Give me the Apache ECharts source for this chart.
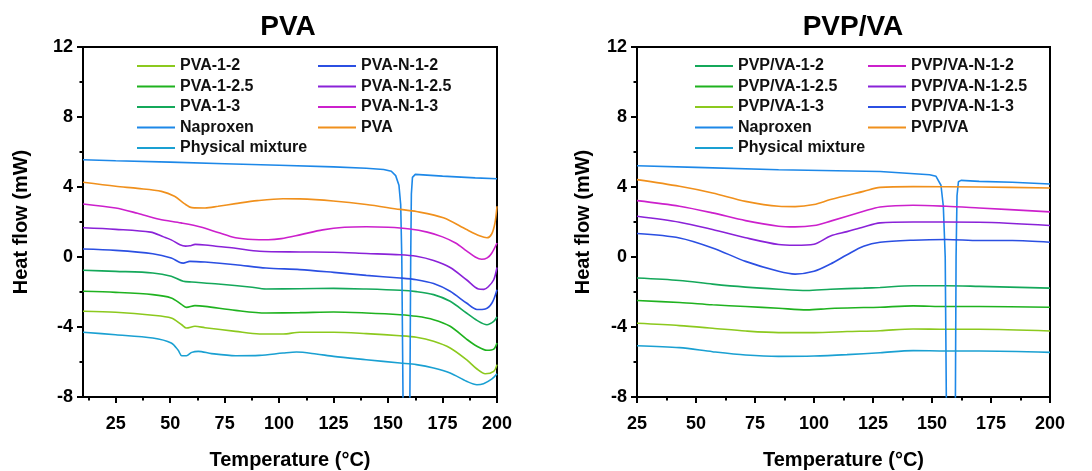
<!DOCTYPE html>
<html>
<head>
<meta charset="utf-8">
<script src="https://cdn.jsdelivr.net/npm/echarts@6/dist/echarts.min.js"></script>
<style>
  html, body { margin: 0; padding: 0; background: #fff; }
  #dsc { width: 1092px; height: 471px; }
</style>
</head>
<body>
<div id="dsc"></div>
<script>
// DSC curves, [temperature, heat flow]
// PVA panel
var pvaNap = [[10,5.56],[25,5.5],[50,5.42],[75,5.33],[100,5.24],[125,5.15],[140,5.07],[148,5.0],[151.5,4.9],[153.5,4.65],[155,4.1],[155.8,3.0],[156.3,0],[156.9,-8.5],[157.5,-10],[159.4,-10],[160,-8.5],[160.4,0],[160.7,3.6],[161.2,4.55],[162.5,4.72],[175,4.62],[190,4.52],[200,4.47]];
var pvaPVA = [[10,4.27],[25,4.04],[35,3.92],[46,3.75],[52,3.47],[56.5,3.05],[60,2.82],[66,2.8],[72,2.9],[80,3.05],[90,3.22],[101.8,3.33],[109.5,3.32],[124.8,3.2],[140,3.0],[155.5,2.72],[163,2.6],[175.4,2.24],[186,1.57],[192.3,1.2],[195.4,1.1],[197.5,1.3],[199,1.9],[200,2.9]];
var pvaN13 = [[10,3.03],[25,2.8],[35,2.5],[45,2.16],[55,1.95],[64,1.72],[72,1.4],[80,1.1],[88,1.0],[95,0.99],[101,1.05],[110,1.28],[120,1.55],[130,1.7],[140,1.73],[150,1.7],[160,1.6],[168,1.42],[175,1.15],[181,0.8],[186,0.35],[190,0.0],[193,-0.13],[195.5,-0.05],[197.5,0.2],[200,0.8]];
var pvaN125 = [[10,1.67],[25,1.58],[41,1.42],[47,1.15],[50.5,0.98],[54.5,0.7],[57,0.62],[59,0.64],[61.5,0.72],[66,0.69],[72,0.6],[80,0.5],[91,0.33],[110,0.29],[125,0.27],[140,0.2],[155.5,0.13],[163,0.04],[170.9,-0.2],[178.5,-0.6],[186,-1.3],[191.5,-1.83],[194,-1.85],[196,-1.7],[198.5,-1.3],[200,-0.6]];
var pvaN12 = [[10,0.46],[25,0.38],[42,0.19],[50.5,-0.06],[54.5,-0.32],[56,-0.35],[59,-0.25],[66,-0.29],[80,-0.44],[94,-0.63],[109.5,-0.72],[125,-0.88],[140,-1.05],[155.5,-1.2],[163,-1.3],[170.9,-1.52],[178.5,-1.96],[186,-2.63],[190.8,-3.0],[194.6,-2.97],[197.7,-2.63],[200,-1.87]];
var pva13 = [[10,-0.76],[25,-0.82],[42,-0.91],[50.5,-1.1],[56,-1.39],[60,-1.43],[72,-1.54],[86.5,-1.71],[94,-1.83],[109.5,-1.81],[125,-1.79],[140,-1.83],[155.5,-1.9],[163,-1.98],[170.9,-2.15],[178.5,-2.53],[186,-3.2],[190.8,-3.62],[195.4,-3.87],[198.5,-3.68],[200,-3.43]];
var pva125 = [[10,-1.96],[25,-2.02],[42,-2.15],[50.5,-2.34],[55.3,-2.72],[57.5,-2.88],[61.4,-2.78],[66,-2.82],[80,-3.05],[94,-3.2],[109.5,-3.18],[125,-3.14],[140,-3.2],[155.5,-3.3],[163,-3.39],[170.9,-3.58],[178.5,-3.96],[186,-4.69],[190.8,-5.1],[195.4,-5.33],[198.5,-5.26],[200,-4.91]];
var pva12 = [[10,-3.1],[25,-3.16],[42,-3.33],[50.5,-3.49],[55.3,-3.87],[57.5,-4.06],[61.4,-3.96],[66,-4.04],[80,-4.25],[91,-4.4],[101.8,-4.4],[109.5,-4.3],[125,-4.3],[140,-4.38],[155.5,-4.5],[163,-4.59],[170.9,-4.82],[178.5,-5.2],[186,-5.87],[190.8,-6.4],[194.6,-6.67],[198.5,-6.53],[200,-6.15]];
var pvaPM = [[10,-4.3],[25,-4.44],[42,-4.63],[50.5,-4.91],[53.7,-5.33],[55.3,-5.64],[57.5,-5.64],[59.9,-5.45],[62.9,-5.39],[69,-5.52],[80,-5.64],[91,-5.62],[101.8,-5.49],[108,-5.43],[117,-5.54],[125,-5.68],[140,-5.87],[155.5,-6.06],[163,-6.15],[170.9,-6.34],[178.5,-6.63],[186,-7.1],[190.8,-7.3],[193.8,-7.24],[197.7,-6.97],[200,-6.67]];

// PVP/VA panel
var vaNap = [[25,5.21],[50,5.12],[85,4.99],[128,4.89],[149,4.7],[151.7,4.61],[153.8,4.1],[154.8,2.9],[155.6,0],[156.1,-8.5],[156.6,-10],[159.4,-10],[159.9,-8.5],[160.2,0],[160.6,3.5],[161.2,4.3],[162.3,4.38],[170,4.32],[184,4.27],[200,4.17]];
var vaVA = [[25,4.42],[43,4.04],[57,3.66],[71,3.18],[85,2.9],[92,2.88],[100,3.0],[107,3.28],[121,3.75],[128,3.98],[142,4.02],[170,4.0],[200,3.94]];
var vaN12 = [[25,3.22],[43,2.9],[57,2.52],[71,2.08],[85,1.76],[92,1.72],[100,1.8],[107,2.05],[121,2.61],[128,2.86],[142,2.96],[156,2.9],[170,2.8],[200,2.58]];
var vaN125 = [[25,2.33],[43,1.99],[57,1.57],[71,1.1],[85,0.71],[92,0.67],[100,0.73],[107,1.2],[114,1.45],[121,1.72],[128,1.95],[142,2.0],[170,1.99],[200,1.8]];
var vaN13 = [[25,1.34],[43,1.09],[57,0.52],[71,-0.25],[85,-0.82],[92,-0.98],[100,-0.82],[107,-0.4],[114,0.13],[121,0.61],[128,0.84],[142,0.96],[156,1.0],[170,0.94],[184,0.94],[200,0.84]];
var va12 = [[25,-1.2],[43,-1.34],[57,-1.55],[71,-1.72],[85,-1.84],[97,-1.91],[107,-1.84],[121,-1.78],[128,-1.74],[142,-1.64],[156,-1.64],[170,-1.68],[200,-1.78]];
var va125 = [[25,-2.49],[43,-2.6],[57,-2.73],[71,-2.83],[85,-2.93],[97,-3.02],[107,-2.94],[121,-2.89],[128,-2.87],[142,-2.79],[156,-2.83],[170,-2.83],[200,-2.87]];
var va13 = [[25,-3.79],[43,-3.92],[57,-4.07],[71,-4.23],[85,-4.32],[100,-4.32],[114,-4.26],[128,-4.21],[142,-4.11],[156,-4.13],[170,-4.13],[200,-4.23]];
var vaPM = [[25,-5.07],[43,-5.18],[57,-5.41],[71,-5.6],[85,-5.68],[100,-5.66],[114,-5.58],[128,-5.47],[142,-5.35],[156,-5.37],[170,-5.37],[200,-5.45]];

var majorTicksL = [25, 50, 75, 100, 125, 150, 175, 200];
var minorTicksL = [12.5, 37.5, 62.5, 87.5, 112.5, 137.5, 162.5, 187.5];

var FONT = '"Liberation Sans", Arial, sans-serif';
var cYellowGreen = '#8cc91e', cGreen = '#1fb21f', cTeal = '#14a85a', cNap = '#1d88e8',
    cPM = '#1aa0d2', cBlue = '#2b4fe2', cPurple = '#8a22d8', cMagenta = '#cc20cc', cOrange = '#f0901c';

var dscChart = echarts.init(document.getElementById('dsc'));

function line(name, data, color, xi, yi, smooth) {
    return {
        name: name, type: 'line', data: data,
        xAxisIndex: xi, yAxisIndex: yi,
        showSymbol: false, symbol: 'none',
        smooth: smooth, clip: true,
        itemStyle: { color: color },
        lineStyle: { color: color, width: 1.6 },
        silent: true
    };
}

function yAxis(grid, gap) {
    return {
        type: 'value', gridIndex: grid, min: -8, max: 12, interval: 4,
        axisLine: { show: true, onZero: false, lineStyle: { color: '#000', width: 2 } },
        axisTick: { show: true, length: 6, lineStyle: { color: '#000', width: 2 } },
        minorTick: { show: true, splitNumber: 2, length: 3.5, lineStyle: { color: '#000', width: 2 } },
        axisLabel: { fontSize: 18, fontWeight: 'bold', color: '#000', margin: 10, fontFamily: FONT },
        splitLine: { show: false },
        name: 'Heat flow (mW)', nameLocation: 'middle', nameGap: gap,
        nameTextStyle: { fontSize: 20, fontWeight: 'bold', color: '#000', fontFamily: FONT }
    };
}

function legend(left, names) {
    return {
        left: left, top: 58, orient: 'vertical', padding: 0,
        icon: 'rect', itemWidth: 38, itemHeight: 2, itemGap: 4.5,
        selectedMode: false, data: names,
        textStyle: { fontSize: 16, fontWeight: 'bold', color: '#111', lineHeight: 16, fontFamily: FONT }
    };
}

var option = {
    animation: false,
    textStyle: { fontFamily: FONT },
    title: [
        { text: 'PVA', left: 288, top: 13, textAlign: 'center', padding: 0,
          textStyle: { fontSize: 28, fontWeight: 'bold', color: '#000', fontFamily: FONT } },
        { text: 'PVP/VA', left: 853, top: 13, textAlign: 'center', padding: 0,
          textStyle: { fontSize: 28, fontWeight: 'bold', color: '#000', fontFamily: FONT } }
    ],
    legend: [
        legend(137, ['PVA-1-2', 'PVA-1-2.5', 'PVA-1-3', 'Naproxen', 'Physical mixture']),
        legend(318, ['PVA-N-1-2', 'PVA-N-1-2.5', 'PVA-N-1-3', 'PVA']),
        legend(695, ['PVP/VA-1-2', 'PVP/VA-1-2.5', 'PVP/VA-1-3', 'Naproxen', 'Physical mixture']),
        legend(868, ['PVP/VA-N-1-2', 'PVP/VA-N-1-2.5', 'PVP/VA-N-1-3', 'PVP/VA'])
    ],
    grid: [
        { left: 83, top: 47, width: 414, height: 350, outerBoundsMode: 'none', show: true, borderColor: '#000', borderWidth: 2, backgroundColor: 'transparent' },
        { left: 637, top: 47, width: 413, height: 350, outerBoundsMode: 'none', show: true, borderColor: '#000', borderWidth: 2, backgroundColor: 'transparent' }
    ],
    xAxis: [
        {
            type: 'value', gridIndex: 0, min: 10, max: 200, position: 'bottom',
            axisLine: { onZero: false, lineStyle: { color: '#000', width: 2 } },
            axisTick: { length: 6, customValues: majorTicksL, lineStyle: { color: '#000', width: 2 } },
            axisLabel: { customValues: majorTicksL, fontSize: 18, fontWeight: 'bold', color: '#000', margin: 18, fontFamily: FONT },
            splitLine: { show: false },
            name: 'Temperature (°C)', nameLocation: 'middle', nameGap: 53,
            nameTextStyle: { fontSize: 20, fontWeight: 'bold', color: '#000', fontFamily: FONT }
        },
        {
            type: 'value', gridIndex: 0, min: 10, max: 200, position: 'bottom',
            axisLine: { show: false, onZero: false },
            axisTick: { length: 3.5, customValues: minorTicksL, lineStyle: { color: '#000', width: 2 } },
            axisLabel: { show: false },
            splitLine: { show: false }
        },
        {
            type: 'value', gridIndex: 1, min: 25, max: 200, interval: 25, position: 'bottom',
            axisLine: { onZero: false, lineStyle: { color: '#000', width: 2 } },
            axisTick: { length: 6, lineStyle: { color: '#000', width: 2 } },
            minorTick: { show: true, splitNumber: 2, length: 3.5, lineStyle: { color: '#000', width: 2 } },
            axisLabel: { fontSize: 18, fontWeight: 'bold', color: '#000', margin: 18, fontFamily: FONT },
            splitLine: { show: false },
            name: 'Temperature (°C)', nameLocation: 'middle', nameGap: 53,
            nameTextStyle: { fontSize: 20, fontWeight: 'bold', color: '#000', fontFamily: FONT }
        }
    ],
    yAxis: [yAxis(0, 52), yAxis(1, 44)],
    series: [
        line('PVA-1-2', pva12, cYellowGreen, 0, 0, 0.3),
        line('PVA-1-2.5', pva125, cGreen, 0, 0, 0.3),
        line('PVA-1-3', pva13, cTeal, 0, 0, 0.3),
        line('Naproxen', pvaNap, cNap, 0, 0, false),
        line('Physical mixture', pvaPM, cPM, 0, 0, 0.3),
        line('PVA-N-1-2', pvaN12, cBlue, 0, 0, 0.3),
        line('PVA-N-1-2.5', pvaN125, cPurple, 0, 0, 0.3),
        line('PVA-N-1-3', pvaN13, cMagenta, 0, 0, 0.3),
        line('PVA', pvaPVA, cOrange, 0, 0, 0.3),

        line('PVP/VA-1-2', va12, cTeal, 2, 1, 0.3),
        line('PVP/VA-1-2.5', va125, cGreen, 2, 1, 0.3),
        line('PVP/VA-1-3', va13, cYellowGreen, 2, 1, 0.3),
        line('Naproxen', vaNap, cNap, 2, 1, false),
        line('Physical mixture', vaPM, cPM, 2, 1, 0.3),
        line('PVP/VA-N-1-2', vaN12, cMagenta, 2, 1, 0.3),
        line('PVP/VA-N-1-2.5', vaN125, cPurple, 2, 1, 0.3),
        line('PVP/VA-N-1-3', vaN13, cBlue, 2, 1, 0.3),
        line('PVP/VA', vaVA, cOrange, 2, 1, 0.3)
    ]
};

dscChart.setOption(option);
</script>
</body>
</html>
